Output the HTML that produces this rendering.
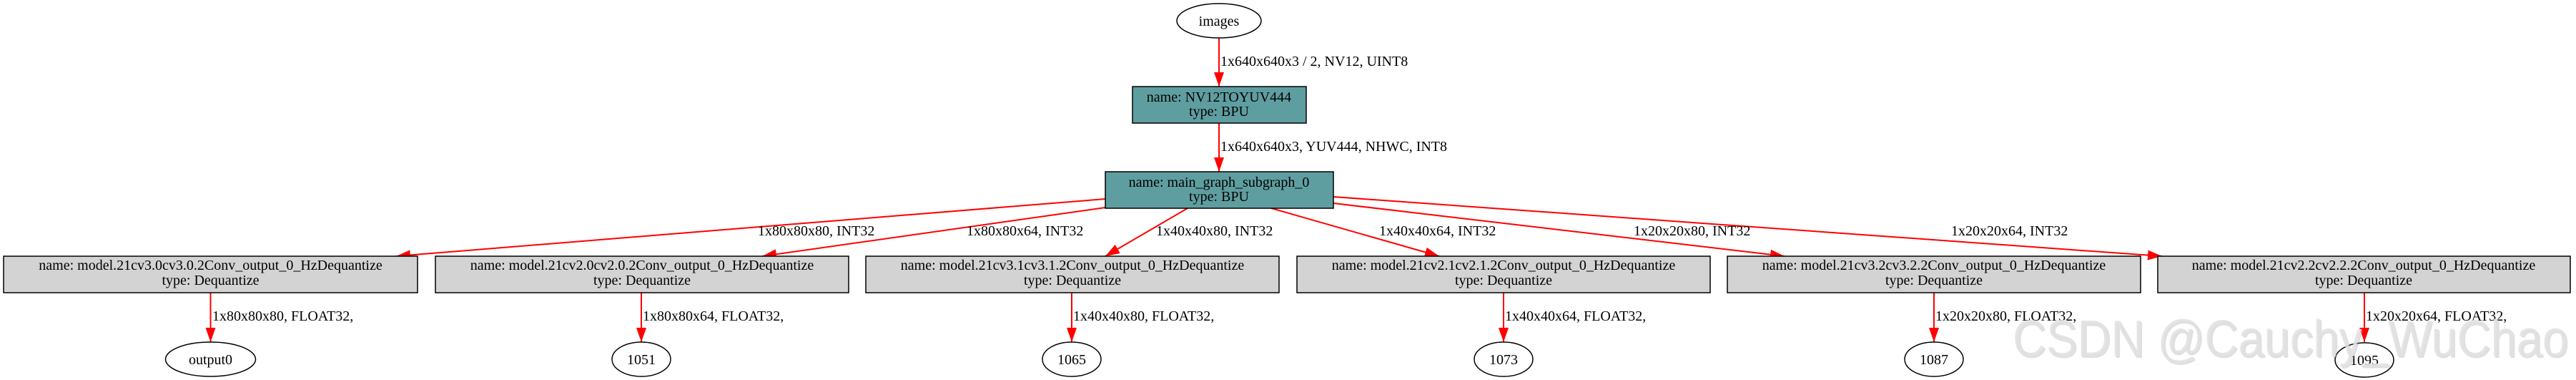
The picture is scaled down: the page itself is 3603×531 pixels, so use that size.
<!DOCTYPE html>
<html><head><meta charset="utf-8"><style>html,body{margin:0;padding:0;background:#fff}svg{display:block}</style></head>
<body>
<svg width="3603" height="531" viewBox="0 0 3603 531" xmlns="http://www.w3.org/2000/svg" font-family="'Liberation Serif', serif" font-size="20">
<defs><marker id="a" markerWidth="10" markerHeight="10" refX="9" refY="5" orient="auto" markerUnits="userSpaceOnUse" viewBox="0 0 10 10"><path d="M0,0 L10,5 L0,10 z" fill="#f00"/></marker>
<marker id="b" markerWidth="20" markerHeight="14" refX="20" refY="7" orient="auto" markerUnits="userSpaceOnUse"><path d="M0,0 L20,7 L0,14 z" fill="#f00"/></marker></defs>
<g stroke="#f00" stroke-width="2" fill="none" marker-end="url(#b)">
<line x1="1705" y1="53" x2="1705" y2="121"/>
<line x1="1705" y1="172" x2="1705" y2="240"/>
<line x1="1546" y1="278" x2="554" y2="358"/>
<line x1="1546" y1="290" x2="1066" y2="358"/>
<line x1="1661" y1="291" x2="1546" y2="358"/>
<line x1="1778" y1="291" x2="2013" y2="358"/>
<line x1="1865" y1="284" x2="2496" y2="358"/>
<line x1="1865" y1="275" x2="3024" y2="358"/>
<line x1="294.5" y1="409" x2="294.5" y2="478"/>
<line x1="897" y1="409" x2="897" y2="478"/>
<line x1="1499" y1="409" x2="1499" y2="478"/>
<line x1="2103" y1="409" x2="2103" y2="478"/>
<line x1="2705" y1="409" x2="2705" y2="478"/>
<line x1="3307" y1="409" x2="3307" y2="478"/>
</g>
<ellipse cx="1705" cy="29" rx="59" ry="24" fill="#fff" stroke="#000" stroke-width="1.5"/>
<text x="1705" y="36" text-anchor="middle">images</text>
<text x="1707" y="92">1x640x640x3 / 2, NV12, UINT8</text>
<rect x="1584" y="121" width="243" height="51" fill="#5f9ea0" stroke="#000" stroke-width="1.5"/>
<text x="1705" y="142" text-anchor="middle">name: NV12TOYUV444</text>
<text x="1705" y="162" text-anchor="middle">type: BPU</text>
<text x="1707" y="211">1x640x640x3, YUV444, NHWC, INT8</text>
<rect x="1546" y="240" width="319" height="51" fill="#5f9ea0" stroke="#000" stroke-width="1.5"/>
<text x="1705" y="261" text-anchor="middle">name: main_graph_subgraph_0</text>
<text x="1705" y="281" text-anchor="middle">type: BPU</text>
<text x="1060" y="329">1x80x80x80, INT32</text>
<text x="1352" y="329">1x80x80x64, INT32</text>
<text x="1617" y="329">1x40x40x80, INT32</text>
<text x="1929" y="329">1x40x40x64, INT32</text>
<text x="2285" y="329">1x20x20x80, INT32</text>
<text x="2729" y="329">1x20x20x64, INT32</text>
<g fill="#d3d3d3" stroke="#000" stroke-width="1.5">
<rect x="5" y="358" width="579" height="51"/>
<rect x="609" y="358" width="578" height="51"/>
<rect x="1211" y="358" width="578" height="51"/>
<rect x="1814" y="358" width="578" height="51"/>
<rect x="2416" y="358" width="578" height="51"/>
<rect x="3018" y="358" width="577" height="51"/>
</g>
<g text-anchor="middle">
<text x="294.5" y="377">name: model.21cv3.0cv3.0.2Conv_output_0_HzDequantize</text>
<text x="294.5" y="398">type: Dequantize</text>
<text x="898" y="377">name: model.21cv2.0cv2.0.2Conv_output_0_HzDequantize</text>
<text x="898" y="398">type: Dequantize</text>
<text x="1500" y="377">name: model.21cv3.1cv3.1.2Conv_output_0_HzDequantize</text>
<text x="1500" y="398">type: Dequantize</text>
<text x="2103" y="377">name: model.21cv2.1cv2.1.2Conv_output_0_HzDequantize</text>
<text x="2103" y="398">type: Dequantize</text>
<text x="2705" y="377">name: model.21cv3.2cv3.2.2Conv_output_0_HzDequantize</text>
<text x="2705" y="398">type: Dequantize</text>
<text x="3306" y="377">name: model.21cv2.2cv2.2.2Conv_output_0_HzDequantize</text>
<text x="3306" y="398">type: Dequantize</text>
</g>
<text x="297" y="448">1x80x80x80, FLOAT32,</text>
<text x="899" y="448">1x80x80x64, FLOAT32,</text>
<text x="1501" y="448">1x40x40x80, FLOAT32,</text>
<text x="2105" y="448">1x40x40x64, FLOAT32,</text>
<text x="2707" y="448">1x20x20x80, FLOAT32,</text>
<text x="3309" y="448">1x20x20x64, FLOAT32,</text>
<g fill="#fff" stroke="#000" stroke-width="1.5">
<ellipse cx="294.5" cy="502" rx="63" ry="24"/>
<ellipse cx="897" cy="502" rx="41" ry="24"/>
<ellipse cx="1499" cy="502" rx="41" ry="24"/>
<ellipse cx="2103" cy="502" rx="41" ry="24"/>
<ellipse cx="2705" cy="502" rx="41" ry="24"/>
<ellipse cx="3307" cy="503" rx="41" ry="24"/>
</g>
<g text-anchor="middle">
<text x="294.5" y="509">output0</text>
<text x="897" y="509">1051</text>
<text x="1499" y="509">1065</text>
<text x="2103" y="509">1073</text>
<text x="2705" y="509">1087</text>
<text x="3307" y="510">1095</text>
</g>
<text x="2817" y="500" font-family="'Liberation Sans', sans-serif" font-size="72" fill="#999" opacity="0.3" textLength="777" lengthAdjust="spacingAndGlyphs">CSDN @Cauchy_WuChao</text>
<text x="2815" y="498" font-family="'Liberation Sans', sans-serif" font-size="72" fill="#e2e2e2" fill-opacity="0.85" textLength="777" lengthAdjust="spacingAndGlyphs">CSDN @Cauchy_WuChao</text>
</svg>
</body></html>
